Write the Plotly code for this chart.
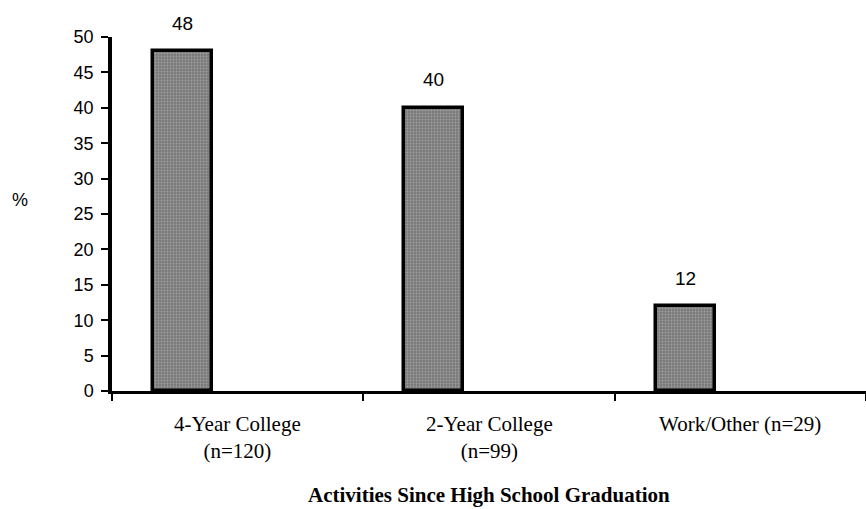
import plotly.graph_objects as go

# Post-graduation activities, percent of respondents
categories = ["4-Year College<br>(n=120)", "2-Year College<br>(n=99)", "Work/Other (n=29)"]
percents = [48, 40, 12]
y_ticks = [0, 5, 10, 15, 20, 25, 30, 35, 40, 45, 50]

BAR_OFFSET = -0.337   # bar left edge relative to category centre
BAR_WIDTH = 0.235
positions = list(range(len(categories)))

fig = go.Figure()
fig.add_trace(go.Bar(
    x=positions,
    y=percents,
    offset=BAR_OFFSET,
    width=BAR_WIDTH,
    marker=dict(
        color="#858585",
        line=dict(color="black", width=3.5),
        pattern=dict(shape=".", fgcolor="#c4c4c4", bgcolor="#7a7a7a",
                     size=3, solidity=0.3, fillmode="overlay"),
    ),
    hoverinfo="skip",
    showlegend=False,
))

annotations = []
# value labels above each bar
for i, v in zip(positions, percents):
    annotations.append(dict(
        x=i + BAR_OFFSET + BAR_WIDTH / 2, y=v, xref="x", yref="y",
        text=str(v), showarrow=False, yanchor="middle", yshift=28,
        font=dict(family="Liberation Sans, Arial", size=19, color="black"),
    ))
# category labels under the axis
for i, c in zip(positions, categories):
    annotations.append(dict(
        x=i, y=0, xref="x", yref="paper",
        text=c, showarrow=False, yanchor="top", yshift=-19,
        font=dict(family="Liberation Serif, Times New Roman", size=21, color="black"),
    ))
# axis titles
annotations.append(dict(
    x=0.5, y=0, xref="paper", yref="paper",
    text="<b>Activities Since High School Graduation</b>", showarrow=False,
    yanchor="middle", yshift=-104,
    font=dict(family="Liberation Serif, Times New Roman", size=21, color="black"),
))
annotations.append(dict(
    x=-0.122, y=0.54, xref="paper", yref="paper",
    text="%", showarrow=False, xanchor="center", yanchor="middle",
    font=dict(family="Liberation Sans, Arial", size=18, color="black"),
))

fig.update_layout(
    width=866, height=509,
    margin=dict(l=112, r=0, t=37, b=118),
    paper_bgcolor="white", plot_bgcolor="white",
    bargap=0,
    annotations=annotations,
    xaxis=dict(
        range=[-0.5, 2.5],
        tickvals=[p - 0.5 for p in positions] + [positions[-1] + 0.5],
        showticklabels=False,
        ticks="outside", ticklen=7, tickwidth=2, tickcolor="black",
        showline=True, linecolor="black", linewidth=2.5,
        showgrid=False, zeroline=False, fixedrange=True,
    ),
    yaxis=dict(
        range=[0, 50],
        tickvals=y_ticks,
        ticks="outside", ticklen=7, tickwidth=2, tickcolor="black",
        ticklabelstandoff=4,
        tickfont=dict(family="Liberation Sans, Arial", size=18, color="black"),
        showline=True, linecolor="black", linewidth=3.5,
        showgrid=False, zeroline=False, fixedrange=True,
    ),
)

fig.write_html("out.html", config={"displayModeBar": False})
